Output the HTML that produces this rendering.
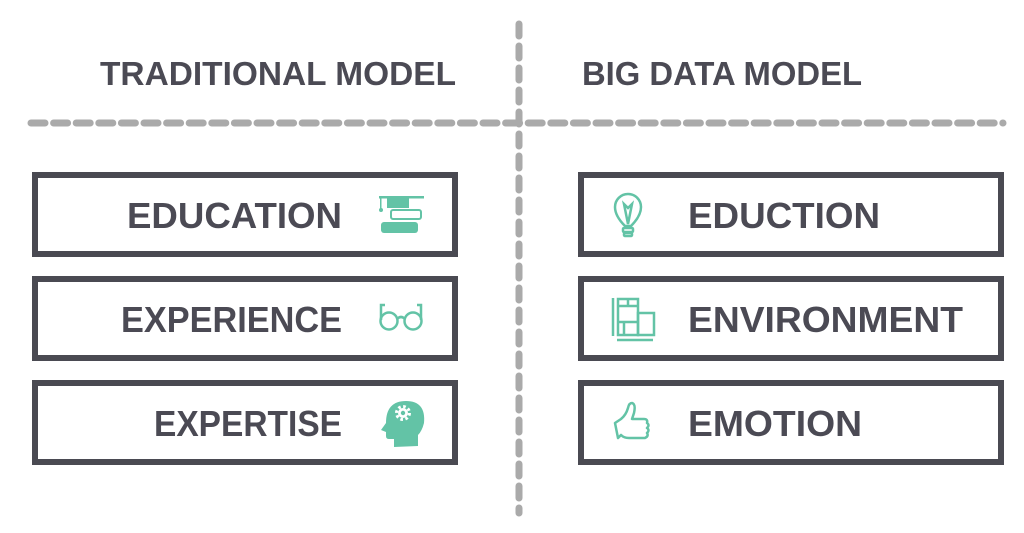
<!DOCTYPE html>
<html><head><meta charset="utf-8"><style>
html,body{margin:0;padding:0;background:#fff;}
svg{display:block}
text{font-family:"Liberation Sans",sans-serif;font-weight:bold;fill:#4b4a54;}
</style></head><body>
<svg width="1024" height="533" viewBox="0 0 1024 533">
<g stroke="#aaaaaa" stroke-width="7" stroke-linecap="round" fill="none">
<line x1="31" y1="123" x2="1003" y2="123" stroke-dasharray="14 8.6"/>
<line x1="519" y1="24" x2="519" y2="513" stroke-dasharray="12 10"/>
</g>
<text x="100" y="85" font-size="33" textLength="356" lengthAdjust="spacingAndGlyphs">TRADITIONAL MODEL</text>
<text x="582" y="85" font-size="33" textLength="280" lengthAdjust="spacingAndGlyphs">BIG DATA MODEL</text>
<g fill="none" stroke="#4a4a52" stroke-width="6">
<rect x="35" y="175" width="420" height="79"/>
<rect x="35" y="279" width="420" height="79"/>
<rect x="35" y="383" width="420" height="79"/>
<rect x="581" y="175" width="420" height="79"/>
<rect x="581" y="279" width="420" height="79"/>
<rect x="581" y="383" width="420" height="79"/>
</g>
<g font-size="36">
<text x="127" y="228" textLength="215" lengthAdjust="spacingAndGlyphs">EDUCATION</text>
<text x="121" y="332" textLength="221" lengthAdjust="spacingAndGlyphs">EXPERIENCE</text>
<text x="154" y="436" textLength="188" lengthAdjust="spacingAndGlyphs">EXPERTISE</text>
<text x="688" y="228" textLength="192" lengthAdjust="spacingAndGlyphs">EDUCTION</text>
<text x="688" y="332" textLength="275" lengthAdjust="spacingAndGlyphs">ENVIRONMENT</text>
<text x="688" y="436" textLength="174" lengthAdjust="spacingAndGlyphs">EMOTION</text>
</g>
<!-- books icon -->
<g fill="#63c3a6">
<rect x="379" y="196" width="45" height="2.5"/>
<rect x="387" y="197" width="22" height="11"/>
<rect x="380" y="197" width="1.5" height="12"/>
<circle cx="381" cy="210" r="2"/>
<rect x="391" y="210" width="30" height="9" rx="2" fill="none" stroke="#63c3a6" stroke-width="2"/>
<rect x="381" y="222" width="37" height="11" rx="3"/>
</g>
<!-- glasses -->
<g fill="none" stroke="#63c3a6" stroke-width="2.5">
<circle cx="389" cy="321" r="8.5"/><circle cx="413" cy="321" r="8.5"/>
<path d="M397 319 Q401 315 405 319"/>
<path d="M381 320 V305 h4"/><path d="M421 320 V305 h-4"/>
</g>
<!-- head -->
<g fill="#63c3a6">
<path d="M394 447 V439 h-5 q-3 0 -3 -3 v-4 l-5 -2 l5 -7 q0 -22 20 -22 q20 0 18 22 q-2 8 -6 12 v11 z"/>
<circle cx="403" cy="413" r="6.5" fill="none" stroke="#fff" stroke-width="3" stroke-dasharray="2.6 2.5"/>
<circle cx="403" cy="413" r="5" fill="#fff"/>
<circle cx="403" cy="413" r="2.2" fill="#63c3a6"/>
</g>
<!-- bulb -->
<g fill="none" stroke="#63c3a6" stroke-width="2.5">
<path d="M625 226 q-10 -10 -10 -19 a13 13 0 0 1 26 0 q0 9 -10 19 z"/>
<path d="M624 204 l4 20 l4 -20 l-4 4 z"/>
<rect x="623" y="228" width="10" height="4" rx="1"/>
<rect x="624" y="233" width="8" height="3" rx="1"/>
</g>
<!-- building -->
<g fill="none" stroke="#63c3a6" stroke-width="2.5">
<rect x="618" y="299" width="20" height="36"/>
<line x1="618" y1="306" x2="638" y2="306"/><line x1="628" y1="299" x2="628" y2="306"/>
<line x1="618" y1="322" x2="638" y2="322"/><line x1="624" y1="322" x2="624" y2="335"/>
<rect x="638" y="313" width="16" height="22"/>
<line x1="613" y1="298" x2="613" y2="336"/>
<line x1="617" y1="340" x2="653" y2="340"/>
</g>
<!-- thumb -->
<g fill="none" stroke="#63c3a6" stroke-width="2.5" stroke-linejoin="round">
<path d="M615 423 l6 -4 q5 -4 7 -11 q1 -5 4 -5 q4 1 2 10 l-2 6 h12 q4 0 3 4 q3 2 0 5 q3 2 0 5 q2 3 -2 5 h-16 q-5 0 -8 -3 l-3 3 z"/>
</g>
</svg>
</body></html>
